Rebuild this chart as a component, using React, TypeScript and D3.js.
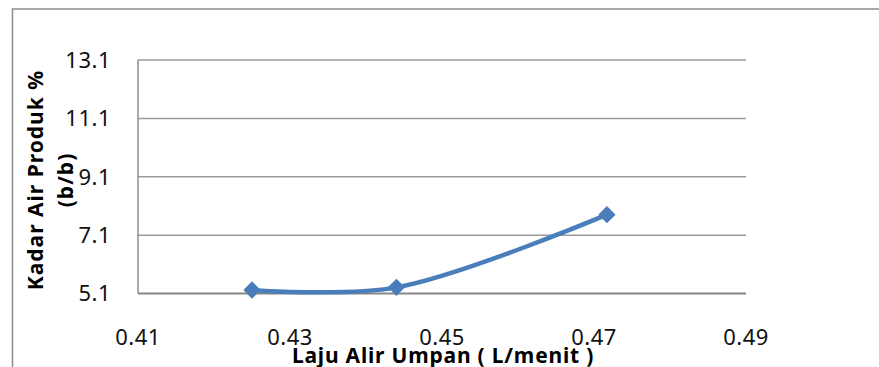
import React from "react";
import * as d3 from "d3";

const xValues = [0.425, 0.444, 0.4717];
const yValues = [5.22, 5.31, 7.8];
const xTicks = [0.41, 0.43, 0.45, 0.47, 0.49];
const yTicks = [5.1, 7.1, 9.1, 11.1, 13.1];
const xTitle = "Laju Alir Umpan ( L/menit )";
const yTitleLines = ["Kadar Air Produk %", "(b/b)"];

export default function App() {
  const W = 879, H = 367;
  const left = 138, right = 746, top = 60, bottom = 293.5;
  const x = d3.scaleLinear().domain([0.41, 0.49]).range([left, right]);
  const y = d3.scaleLinear().domain([5.1, 13.1]).range([bottom, top]);
  const pts: [number, number][] = xValues.map((v, i) => [x(v), y(yValues[i])]);
  const line = d3.line().curve(d3.curveCatmullRom.alpha(0.5))(pts) || "";
  const diamond = d3.symbol().type(d3.symbolDiamond2).size(190)() || "";
  const font = "'Noto Sans', 'Open Sans', sans-serif";
  return (
    <svg width={W} height={H} style={{ position: "absolute", left: 0, top: 0 }}>
      <rect x={0} y={0} width={W} height={H} fill="#fff" />
      <rect x={12.5} y={9} width={1000} height={500} fill="none" stroke="#8c8c8c" strokeWidth={1.5} />
      {yTicks.map((t) => (
        <g key={t}>
          {t !== 5.1 && (
            <line x1={left} x2={right} y1={y(t)} y2={y(t)} stroke="#9a9a9a" strokeWidth={1.5} />
          )}
          <text x={111} y={y(t)} dy="0.36em" textAnchor="end" fontFamily={font} fontSize={22} letterSpacing={0.5} fill="#111">
            {t.toFixed(1)}
          </text>
        </g>
      ))}
      <line x1={left} x2={left} y1={top} y2={bottom} stroke="#8c8c8c" strokeWidth={1.5} />
      <line x1={left} x2={right} y1={bottom} y2={bottom} stroke="#868686" strokeWidth={2.2} />
      {xTicks.map((t) => (
        <text key={t} x={x(t)} y={345} textAnchor="middle" fontFamily={font} fontSize={22} letterSpacing={0.5} fill="#111">
          {t.toFixed(2)}
        </text>
      ))}
      <path d={line} fill="none" stroke="#4A7EBB" strokeWidth={4.5} strokeLinecap="round" />
      {pts.map((p, i) => (
        <path key={i} d={diamond} transform={`translate(${p[0]},${p[1]})`} fill="#4A7EBB" />
      ))}
      <text x={443} y={363} textAnchor="middle" fontFamily={font} fontWeight="bold" fontSize={21} letterSpacing={0.8} fill="#000">
        {xTitle}
      </text>
      <g transform="translate(0,180) rotate(-90)">
        <text x={0} y={43} textAnchor="middle" fontFamily={font} fontWeight="bold" fontSize={21} letterSpacing={1} fill="#000">
          {yTitleLines[0]}
        </text>
        <text x={0} y={73} textAnchor="middle" fontFamily={font} fontWeight="bold" fontSize={21} letterSpacing={1} fill="#000">
          {yTitleLines[1]}
        </text>
      </g>
    </svg>
  );
}
